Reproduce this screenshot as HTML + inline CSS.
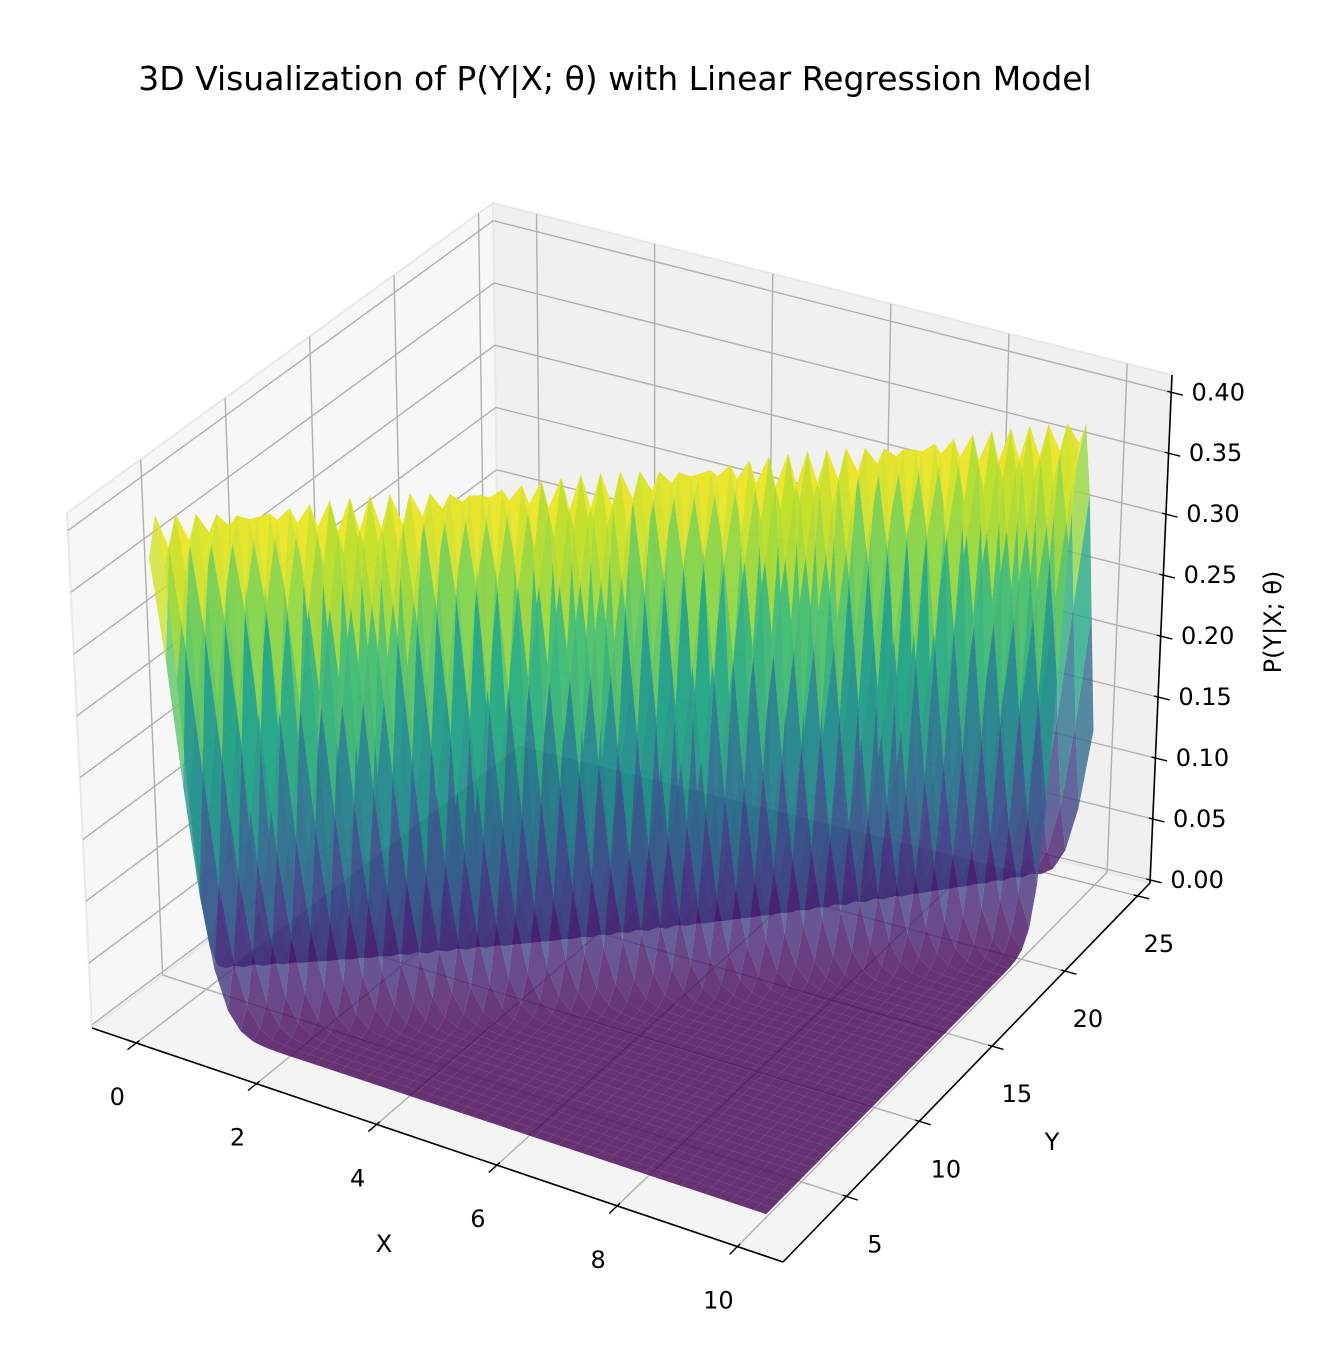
<!DOCTYPE html>
<html><head><meta charset="utf-8"><style>
html,body{margin:0;padding:0;background:#fff;}
svg{display:block;font-family:"DejaVu Sans","Liberation Sans",sans-serif;}
</style></head><body>
<svg id="chart" width="1326" height="1362" viewBox="0 0 1326 1362" xmlns="http://www.w3.org/2000/svg">
<rect x="0" y="0" width="1326" height="1362" fill="#ffffff"/>
<text x="615" y="90" text-anchor="middle" font-size="33" fill="#000">3D Visualization of P(Y|X; θ) with Linear Regression Model</text>
<g id="panes"></g>
<g id="grid"></g>
<g id="axes"></g>
<g id="surface"></g>
<text x="384" y="1252" text-anchor="middle" font-size="24">X</text>
<text x="1052" y="1150" text-anchor="middle" font-size="24">Y</text>
<text x="1281" y="622" text-anchor="middle" font-size="24" transform="rotate(-90 1281 622)">P(Y|X; θ)</text>
</svg>
<script>
// ---- data ----
const xTicks = [0, 2, 4, 6, 8, 10];
const yTicks = [5, 10, 15, 20, 25];
const zTicks = [0, 0.05, 0.10, 0.15, 0.20, 0.25, 0.30, 0.35, 0.40];
const zTickLabels = ["0.00","0.05","0.10","0.15","0.20","0.25","0.30","0.35","0.40"];
const modelSlope = [2];
const modelIntercept = [3];
const modelSigma = [1];
const xRange = [0, 10];
const yRange = [2.6, 24.5];
const gridCount = [50, 50];

// ---- projection (box corners on screen) ----
const C = {c000:[92,1028],c100:[783,1262],c110:[1150,883],c010:[500,722],
           c001:[67,513],c101:[800,700],c111:[1172,375],c011:[493,203]};
function bil(a,b,c,d,u,v){
  return [(1-u)*(1-v)*a[0]+u*(1-v)*b[0]+u*v*c[0]+(1-u)*v*d[0],
          (1-u)*(1-v)*a[1]+u*(1-v)*b[1]+u*v*c[1]+(1-u)*v*d[1]];
}
function P(u,v,w){
  const b=bil(C.c000,C.c100,C.c110,C.c010,u,v), t=bil(C.c001,C.c101,C.c111,C.c011,u,v);
  return [b[0]+(t[0]-b[0])*w, b[1]+(t[1]-b[1])*w];
}
function U(x){return 0.064+0.087*x;}
function V(y){return 0.173+(y-5)*0.03965;}
function W(z){return 0.006+2.4*z;}
const NS="http://www.w3.org/2000/svg";
function mk(tag,parent){const e=document.createElementNS(NS,tag);parent.appendChild(e);return e;}
function pts(arr){return arr.map(p=>p[0].toFixed(1)+","+p[1].toFixed(1)).join(" ");}

// ---- panes ----
const panes=document.getElementById('panes');
const paneDefs=[
 ['left-pane',[[0,0,0],[0,1,0],[0,1,1],[0,0,1]],'#f7f7f7'],
 ['back-pane',[[0,1,0],[1,1,0],[1,1,1],[0,1,1]],'#f0f0f0'],
 ['floor-pane',[[0,0,0],[1,0,0],[1,1,0],[0,1,0]],'#f4f4f4']];
paneDefs.forEach(d=>{
  const p=mk('polygon',panes);
  
  
  p.setAttribute('points',pts(d[1].map(q=>P(q[0],q[1],q[2]))));
  p.setAttribute('fill',d[2]);p.setAttribute('stroke','#e8e8e8');p.setAttribute('stroke-width','2');
});

// ---- gridlines ----
const grid=document.getElementById('grid');
function gl(a,b,name){
  const l=mk('line',grid);
  
  
  l.setAttribute('x1',a[0]);l.setAttribute('y1',a[1]);l.setAttribute('x2',b[0]);l.setAttribute('y2',b[1]);
  l.setAttribute('stroke','#b0b0b0');l.setAttribute('stroke-width','1.4');
}
xTicks.forEach(x=>{const u=U(x);
  gl(P(u,0,0),P(u,1,0),'x-gridline-floor');gl(P(u,1,0),P(u,1,1),'x-gridline-back');});
yTicks.forEach(y=>{const v=V(y);
  gl(P(0,v,0),P(1,v,0),'y-gridline-floor');gl(P(0,v,0),P(0,v,1),'y-gridline-left');});
zTicks.forEach(z=>{const w=W(z);
  gl(P(0,0,w),P(0,1,w),'z-gridline-left');gl(P(0,1,w),P(1,1,w),'z-gridline-back');});

// ---- axes ----
const axes=document.getElementById('axes');
function al(a,b,name,wd){
  const l=mk('line',axes);
  
  
  l.setAttribute('x1',a[0]);l.setAttribute('y1',a[1]);l.setAttribute('x2',b[0]);l.setAttribute('y2',b[1]);
  l.setAttribute('stroke','#000');l.setAttribute('stroke-width',wd);
}
function txt(x,y,s,name,anchor){
  const t=mk('text',axes);
  
  
  t.setAttribute('x',x);t.setAttribute('y',y);t.setAttribute('font-size','24');
  t.setAttribute('text-anchor',anchor||'middle');t.setAttribute('dominant-baseline','central');
  t.textContent=s;
}
function dirOf(a,b){const dx=b[0]-a[0],dy=b[1]-a[1],L=Math.hypot(dx,dy);return [dx/L,dy/L];}
al(P(0,0,0),P(1,0,0),'x-axis-line',1.6);
al(P(1,0,0),P(1,1,0),'y-axis-line',1.6);
al(P(1,1,0),P(1,1,1),'z-axis-line',1.6);
xTicks.forEach(x=>{const u=U(x),p=P(u,0,0),d=dirOf(P(u,0.05,0),p);
  al([p[0]-d[0]*4,p[1]-d[1]*4],[p[0]+d[0]*11,p[1]+d[1]*11],'x-tick',1.4);
  txt(p[0]-19,p[1]+54,String(x),'x-tick-label');});
yTicks.forEach((y,i)=>{const v=V(y),p=P(1,v,0),d=dirOf(P(0.95,v,0),p);
  al([p[0]-d[0]*4,p[1]-d[1]*4],[p[0]+d[0]*12,p[1]+d[1]*12],'y-tick',1.4);
  txt(p[0]+30-9*(v),p[1]+48,String(y),'y-tick-label');});
zTicks.forEach((z,i)=>{const w=W(z),p=P(1,1,w),d=dirOf(P(0.95,1,w),p);
  al([p[0]-d[0]*4,p[1]-d[1]*4],[p[0]+d[0]*12,p[1]+d[1]*12],'z-tick',1.4);
  txt(p[0]+47,p[1],zTickLabels[i],'z-tick-label');});

// ---- surface ----
const vir=[[68,1,84],[72,36,117],[65,68,135],[53,95,141],[42,120,142],[33,145,140],[34,168,132],[68,191,112],[122,209,81],[189,223,38],[253,231,37]];
function viridis(t){t=Math.max(0,Math.min(1,t))*10;const i=Math.min(9,Math.floor(t)),f=t-i,a=vir[i],b=vir[i+1];
  return 'rgb('+Math.round(a[0]+(b[0]-a[0])*f)+','+Math.round(a[1]+(b[1]-a[1])*f)+','+Math.round(a[2]+(b[2]-a[2])*f)+')';}
const nx=gridCount[0], ny=gridCount[1];
const xs=[],ys=[];
for(let i=0;i<nx;i++) xs.push(xRange[0]+(xRange[1]-xRange[0])*i/(nx-1));
for(let j=0;j<ny;j++) ys.push(yRange[0]+(yRange[1]-yRange[0])*j/(ny-1));
function density(x,y){const m=modelSlope[0]*x+modelIntercept[0],s=modelSigma[0];
  return Math.exp(-0.5*((y-m)/s)**2)/(Math.sqrt(2*Math.PI)*s);}
const Z=xs.map(x=>ys.map(y=>density(x,y)));
let zmax=0,zmin=1;Z.forEach(r=>r.forEach(v=>{zmax=Math.max(zmax,v);zmin=Math.min(zmin,v);}));
zmax=Math.max(zmax,1/(Math.sqrt(2*Math.PI)*modelSigma[0]))*0.97;
const quads=[];
for(let i=0;i<nx-1;i++)for(let j=0;j<ny-1;j++){
  const c=[[i,j],[i+1,j],[i+1,j+1],[i,j+1]];
  const q=c.map(k=>[U(xs[k[0]]),V(ys[k[1]]),W(Z[k[0]][k[1]])]);
  const zm=(Z[i][j]+Z[i+1][j]+Z[i+1][j+1]+Z[i][j+1])/4;
  let du=0,dv=0,dw=0;q.forEach(p=>{du+=p[0]/4;dv+=p[1]/4;dw+=p[2]/4;});
  const depth=0.433*4*du-0.75*4*dv+0.5*3*dw;
  quads.push({q,zm,depth});
}
quads.sort((a,b)=>a.depth-b.depth);
const surf=document.getElementById('surface');
quads.forEach(o=>{
  const p=mk('polygon',surf);
  
  
  p.setAttribute('points',pts(o.q.map(r=>P(r[0],r[1],r[2]))));
  p.setAttribute('fill',viridis((o.zm-zmin)/(zmax-zmin)));
  p.setAttribute('fill-opacity','0.8');
});
</script>
</body></html>
